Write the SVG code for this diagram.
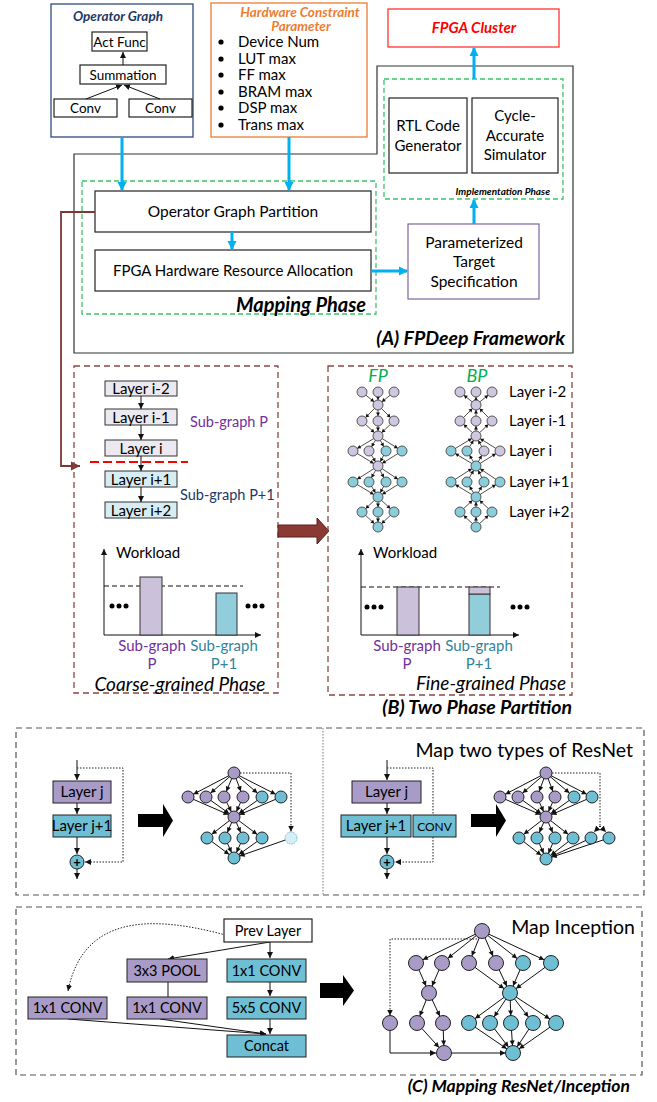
<svg xmlns="http://www.w3.org/2000/svg" xmlns:xlink="http://www.w3.org/1999/xlink" width="657" height="1102" viewBox="0 0 657 1102">
<defs>
<style>
text{font-family:Lato,"Open Sans","Liberation Sans",sans-serif}
.c{text-anchor:middle}
.e{text-anchor:end}
.bi{font-weight:bold;font-style:italic}
.it{font-style:italic}
.box{fill:#fff;stroke:#222;stroke-width:1.2}
.blue{stroke:#00B0F0;stroke-width:3;fill:none;marker-end:url(#mb)}
.k{stroke:#111;stroke-width:1;fill:none}
.ka{stroke:#111;stroke-width:1;fill:none;marker-end:url(#mk)}
.dot{stroke:#222;stroke-width:1;stroke-dasharray:1.5 1.5;fill:none}
.dota{stroke:#222;stroke-width:1;stroke-dasharray:1.5 1.5;fill:none;marker-end:url(#mk)}
.gdash{fill:none;stroke:#3CC36B;stroke-width:1.3;stroke-dasharray:5 3}
.bdash{fill:none;stroke:#8B4545;stroke-width:1.3;stroke-dasharray:6 4}
.cdash{fill:none;stroke:#555;stroke-width:1.2;stroke-dasharray:6 4}
.p1{fill:#CFC6DF;stroke:#333;stroke-width:0.8}
.t1{fill:#8CCDDC;stroke:#333;stroke-width:0.8}
.p2{fill:#A99BC7;stroke:#222;stroke-width:1}
.t2{fill:#6EBED4;stroke:#222;stroke-width:1}
.lp{fill:#ECE9F1;stroke:#333;stroke-width:1}
.lt{fill:#D8EDF3;stroke:#333;stroke-width:1}
.bp{fill:#CCC1DA;stroke:#333;stroke-width:1}
.bt{fill:#92CDDC;stroke:#333;stroke-width:1}
.ge{stroke:#222;stroke-width:0.8;fill:none}
.re{stroke:#111;stroke-width:1;fill:none;marker-end:url(#mr)}
.ie{stroke:#111;stroke-width:1;fill:none;marker-end:url(#mi)}
</style>
<marker id="mb" markerUnits="userSpaceOnUse" markerWidth="10" markerHeight="10" refX="8" refY="5" orient="auto"><path d="M0,0.5 L9,5 L0,9.5z" fill="#00B0F0"/></marker>
<marker id="mk" markerUnits="userSpaceOnUse" markerWidth="6" markerHeight="6" refX="6" refY="3" orient="auto"><path d="M0,0 L6,3 L0,6z" fill="#111"/></marker>
<marker id="mbr" markerUnits="userSpaceOnUse" markerWidth="10" markerHeight="10" refX="9" refY="5" orient="auto"><path d="M0,0.5 L9,5 L0,9.5z" fill="#7F3535"/></marker>
<marker id="mf" markerUnits="userSpaceOnUse" markerWidth="4" markerHeight="4" refX="8.5" refY="2" orient="auto-start-reverse" overflow="visible"><path d="M0,0 L3.5,2 L0,4z" fill="#111"/></marker>
<marker id="mr" markerUnits="userSpaceOnUse" markerWidth="5" markerHeight="5" refX="11" refY="2.5" orient="auto" overflow="visible"><path d="M0,0 L5,2.5 L0,5z" fill="#111"/></marker>
<marker id="mi" markerUnits="userSpaceOnUse" markerWidth="5" markerHeight="5" refX="12.5" refY="2.5" orient="auto" overflow="visible"><path d="M0,0 L5,2.5 L0,5z" fill="#111"/></marker>
<g id="gE" class="ge">
<line x1="362" y1="392" x2="378" y2="405"/><line x1="378" y1="392" x2="378" y2="405"/><line x1="394" y1="392" x2="378" y2="405"/>
<line x1="378" y1="405" x2="362" y2="421"/><line x1="378" y1="405" x2="378" y2="421"/><line x1="378" y1="405" x2="394" y2="421"/>
<line x1="362" y1="421" x2="378" y2="436"/><line x1="378" y1="421" x2="378" y2="436"/><line x1="394" y1="421" x2="378" y2="436"/>
<line x1="378" y1="436" x2="353" y2="451"/><line x1="378" y1="436" x2="369" y2="451"/><line x1="378" y1="436" x2="386" y2="451"/><line x1="378" y1="436" x2="402" y2="451"/>
<line x1="353" y1="451" x2="378" y2="466"/><line x1="369" y1="451" x2="378" y2="466"/><line x1="386" y1="451" x2="378" y2="466"/><line x1="402" y1="451" x2="378" y2="466"/>
<line x1="378" y1="466" x2="353" y2="482"/><line x1="378" y1="466" x2="369" y2="482"/><line x1="378" y1="466" x2="386" y2="482"/><line x1="378" y1="466" x2="402" y2="482"/>
<line x1="353" y1="482" x2="378" y2="497"/><line x1="369" y1="482" x2="378" y2="497"/><line x1="386" y1="482" x2="378" y2="497"/><line x1="402" y1="482" x2="378" y2="497"/>
<line x1="378" y1="497" x2="362" y2="512"/><line x1="378" y1="497" x2="378" y2="512"/><line x1="378" y1="497" x2="394" y2="512"/>
<line x1="362" y1="512" x2="378" y2="527"/><line x1="378" y1="512" x2="378" y2="527"/><line x1="394" y1="512" x2="378" y2="527"/>
</g>
</defs>
<rect width="657" height="1102" fill="#fff"/>

<!-- ============ (A) FPDeep Framework ============ -->
<g id="framework-outline">
<path d="M74,154 H377 V66 H573 V353 H74 Z" fill="none" stroke="#333" stroke-width="1.2"/>
<text x="565" y="345" class="e bi" font-size="19.5">(A) FPDeep Framework</text>
</g>

<g id="operator-graph">
<rect x="51" y="4" width="142" height="133" fill="#fff" stroke="#2F4A7F" stroke-width="1.3"/>
<text x="118" y="21" class="c bi" font-size="13.5" fill="#1F3864">Operator Graph</text>
<rect x="92" y="32" width="55" height="19" class="box"/>
<text x="119.5" y="46.5" class="c" font-size="13.5">Act Func</text>
<rect x="80" y="65" width="86" height="19" class="box"/>
<text x="123" y="79.5" class="c" font-size="13.5">Summation</text>
<rect x="54" y="99" width="63" height="18" class="box"/>
<text x="85.5" y="113" class="c" font-size="13.5">Conv</text>
<rect x="129" y="99" width="63" height="18" class="box"/>
<text x="160.5" y="113" class="c" font-size="13.5">Conv</text>
<line x1="123" y1="65" x2="123" y2="52" class="ka"/>
<line x1="86" y1="99" x2="122" y2="85" class="ka"/>
<line x1="160" y1="99" x2="124" y2="85" class="ka"/>
</g>

<g id="hw-constraint">
<rect x="211" y="3" width="156" height="134" fill="#fff" stroke="#ED7D31" stroke-width="1.3"/>
<text x="300" y="17" class="c bi" font-size="13.5" fill="#ED7D31">Hardware Constraint</text>
<text x="301" y="31" class="c bi" font-size="13.5" fill="#ED7D31">Parameter</text>
<g font-size="15">
<circle cx="221" cy="42" r="2.6"/><text x="238" y="47">Device Num</text>
<circle cx="221" cy="59" r="2.6"/><text x="238" y="64">LUT max</text>
<circle cx="221" cy="75" r="2.6"/><text x="238" y="80">FF max</text>
<circle cx="221" cy="92" r="2.6"/><text x="238" y="97">BRAM max</text>
<circle cx="221" cy="108" r="2.6"/><text x="238" y="113">DSP max</text>
<circle cx="221" cy="125" r="2.6"/><text x="238" y="130">Trans max</text>
</g>
</g>

<g id="fpga-cluster">
<rect x="388" y="9" width="171" height="38" fill="#fff" stroke="#FF3333" stroke-width="1.3"/>
<text x="474" y="33" class="c bi" font-size="15" fill="#FF0000">FPGA Cluster</text>
</g>

<g id="mapping-phase">
<rect x="82" y="181" width="294" height="133" class="gdash"/>
<text x="366" y="312" class="e bi" font-size="20">Mapping Phase</text>
</g>
<g id="partition">
<rect x="95" y="191" width="276" height="41" class="box"/>
<text x="233" y="217" class="c" font-size="15.5">Operator Graph Partition</text>
</g>
<g id="allocation">
<rect x="95" y="250" width="276" height="41" class="box"/>
<text x="233" y="276" class="c" font-size="15">FPGA Hardware Resource Allocation</text>
</g>

<g id="implementation-phase">
<rect x="384" y="79" width="179" height="120" class="gdash"/>
<text x="550" y="195" class="e bi" font-size="10">Implementation Phase</text>
</g>
<g id="rtl">
<rect x="389" y="98" width="78" height="75" class="box"/>
<text x="428" y="131" class="c" font-size="15">RTL Code</text>
<text x="428" y="151" class="c" font-size="15">Generator</text>
</g>
<g id="simulator">
<rect x="472" y="98" width="86" height="75" class="box"/>
<text x="515" y="121" class="c" font-size="15">Cycle-</text>
<text x="515" y="141" class="c" font-size="15">Accurate</text>
<text x="515" y="160" class="c" font-size="15">Simulator</text>
</g>
<g id="target-spec">
<rect x="408" y="224" width="131" height="75" fill="#fff" stroke="#8064A2" stroke-width="1.2"/>
<text x="474" y="248" class="c" font-size="15.5">Parameterized</text>
<text x="474" y="267" class="c" font-size="15.5">Target</text>
<text x="474" y="287" class="c" font-size="15.5">Specification</text>
</g>

<g id="connectors-a">
<line x1="122" y1="137" x2="122" y2="190" class="blue"/>
<line x1="289" y1="137" x2="289" y2="190" class="blue"/>
<line x1="232" y1="232" x2="232" y2="249" class="blue"/>
<line x1="371" y1="271" x2="407" y2="271" class="blue"/>
<line x1="474" y1="224" x2="474" y2="200" class="blue"/>
<line x1="474" y1="79" x2="474" y2="48" class="blue"/>
<path d="M95,212 H61 V466 H80" fill="none" stroke="#7F3535" stroke-width="1.8" marker-end="url(#mbr)"/>
</g>

<!-- ============ (B) Two Phase Partition ============ -->
<g id="coarse-phase">
<rect x="74" y="366" width="204" height="327" class="bdash"/>
<text x="180" y="691" class="c it" font-size="19">Coarse-grained Phase</text>
</g>
<g id="coarse-layers">
<rect x="105" y="381" width="72" height="15" class="lp"/><text x="141" y="393.5" class="c" font-size="15">Layer i-2</text>
<rect x="105" y="409" width="72" height="16" class="lp"/><text x="141" y="422.5" class="c" font-size="15">Layer i-1</text>
<rect x="105" y="440" width="72" height="16" class="lp"/><text x="141" y="453.5" class="c" font-size="15">Layer i</text>
<rect x="105" y="471" width="72" height="16" class="lt"/><text x="141" y="484.5" class="c" font-size="15">Layer i+1</text>
<rect x="105" y="502" width="72" height="16" class="lt"/><text x="141" y="515.5" class="c" font-size="15">Layer i+2</text>
<line x1="141" y1="396" x2="141" y2="409" class="ka"/>
<line x1="141" y1="425" x2="141" y2="440" class="ka"/>
<line x1="141" y1="456" x2="141" y2="471" class="ka"/>
<line x1="141" y1="487" x2="141" y2="502" class="ka"/>
<line x1="90" y1="462" x2="188" y2="462" stroke="#FF0000" stroke-width="2" stroke-dasharray="9 4"/>
<text x="190" y="427" font-size="14.5" fill="#7030A0">Sub-graph P</text>
<text x="180" y="500" font-size="14.5" fill="#203864">Sub-graph P+1</text>
</g>
<g id="coarse-chart">
<line x1="104" y1="635" x2="104" y2="549" class="ka"/>
<line x1="104" y1="635" x2="261" y2="635" class="ka"/>
<line x1="104" y1="586" x2="243" y2="586" stroke="#111" stroke-width="1" stroke-dasharray="5 3"/>
<rect x="140" y="577" width="22" height="58" class="bp"/>
<rect x="216" y="593" width="21" height="42" class="bt"/>
<text x="116" y="558" font-size="15">Workload</text>
<circle cx="112" cy="606" r="2.5"/><circle cx="119" cy="606" r="2.5"/><circle cx="126" cy="606" r="2.5"/>
<circle cx="248" cy="606" r="2.5"/><circle cx="255" cy="606" r="2.5"/><circle cx="262" cy="606" r="2.5"/>
<text x="152" y="651" class="c" font-size="15" fill="#7030A0">Sub-graph</text>
<text x="152" y="669" class="c" font-size="15" fill="#7030A0">P</text>
<text x="224" y="651" class="c" font-size="15" fill="#31849B">Sub-graph</text>
<text x="224" y="669" class="c" font-size="15" fill="#31849B">P+1</text>
</g>

<g id="phase-arrow">
<path d="M278,525 H317 V518 L329,531 L317,544 V537 H278 Z" fill="#8B3A33" stroke="#5C1E1E" stroke-width="1"/>
</g>

<g id="fine-phase">
<rect x="328" y="366" width="244" height="329" class="bdash"/>
<text x="566" y="690" class="e it" font-size="19">Fine-grained Phase</text>
<text x="572" y="714" class="e bi" font-size="19.5">(B) Two Phase Partition</text>
</g>
<g id="fp-bp-graphs">
<text x="378" y="382" class="c it" font-size="18" fill="#00B050">FP</text>
<text x="477" y="382" class="c it" font-size="18" fill="#00B050">BP</text>
<use xlink:href="#gE" style="marker-end:url(#mf)"/>
<use xlink:href="#gE" x="98" style="marker-start:url(#mf)"/>
<g id="fp-nodes">
<circle cx="362" cy="392" r="5" class="p1"/><circle cx="378" cy="392" r="5" class="p1"/><circle cx="394" cy="392" r="5" class="p1"/>
<circle cx="378" cy="405" r="5" class="p1"/>
<circle cx="362" cy="421" r="5" class="p1"/><circle cx="378" cy="421" r="5" class="p1"/><circle cx="394" cy="421" r="5" class="p1"/>
<circle cx="378" cy="436" r="5" class="p1"/>
<circle cx="353" cy="451" r="5" class="p1"/><circle cx="369" cy="451" r="5" class="p1"/><circle cx="386" cy="451" r="5" class="t1"/><circle cx="402" cy="451" r="5" class="t1"/>
<circle cx="378" cy="466" r="5" class="p1"/>
<circle cx="353" cy="482" r="5" class="t1"/><circle cx="369" cy="482" r="5" class="t1"/><circle cx="386" cy="482" r="5" class="t1"/><circle cx="402" cy="482" r="5" class="t1"/>
<circle cx="378" cy="497" r="5" class="t1"/>
<circle cx="362" cy="512" r="5" class="t1"/><circle cx="378" cy="512" r="5" class="t1"/><circle cx="394" cy="512" r="5" class="t1"/>
<circle cx="378" cy="527" r="5" class="t1"/>
</g>
<g id="bp-nodes">
<circle cx="460" cy="392" r="5" class="p1"/><circle cx="476" cy="392" r="5" class="p1"/><circle cx="492" cy="392" r="5" class="p1"/>
<circle cx="476" cy="405" r="5" class="p1"/>
<circle cx="460" cy="421" r="5" class="p1"/><circle cx="476" cy="421" r="5" class="p1"/><circle cx="492" cy="421" r="5" class="p1"/>
<circle cx="476" cy="436" r="5" class="p1"/>
<circle cx="451" cy="451" r="5" class="t1"/><circle cx="467" cy="451" r="5" class="t1"/><circle cx="484" cy="451" r="5" class="p1"/><circle cx="500" cy="451" r="5" class="p1"/>
<circle cx="476" cy="466" r="5" class="t1"/>
<circle cx="451" cy="482" r="5" class="t1"/><circle cx="467" cy="482" r="5" class="t1"/><circle cx="484" cy="482" r="5" class="t1"/><circle cx="500" cy="482" r="5" class="t1"/>
<circle cx="476" cy="497" r="5" class="t1"/>
<circle cx="460" cy="512" r="5" class="t1"/><circle cx="476" cy="512" r="5" class="t1"/><circle cx="492" cy="512" r="5" class="t1"/>
<circle cx="476" cy="527" r="5" class="t1"/>
</g>
<g font-size="15">
<text x="509" y="397">Layer i-2</text>
<text x="509" y="426">Layer i-1</text>
<text x="509" y="456">Layer i</text>
<text x="509" y="487">Layer i+1</text>
<text x="509" y="517">Layer i+2</text>
</g>
</g>
<g id="fine-chart">
<line x1="361" y1="635" x2="361" y2="549" class="ka"/>
<line x1="361" y1="635" x2="519" y2="635" class="ka"/>
<line x1="361" y1="587" x2="500" y2="587" stroke="#111" stroke-width="1" stroke-dasharray="5 3"/>
<rect x="397" y="587" width="22" height="48" class="bp"/>
<rect x="469" y="594" width="21" height="41" class="bt"/>
<rect x="469" y="587" width="21" height="7" class="bp"/>
<text x="373" y="558" font-size="15">Workload</text>
<circle cx="367" cy="607" r="2.5"/><circle cx="374" cy="607" r="2.5"/><circle cx="381" cy="607" r="2.5"/>
<circle cx="513" cy="607" r="2.5"/><circle cx="520" cy="607" r="2.5"/><circle cx="527" cy="607" r="2.5"/>
<text x="407" y="651" class="c" font-size="15" fill="#7030A0">Sub-graph</text>
<text x="407" y="669" class="c" font-size="15" fill="#7030A0">P</text>
<text x="479" y="651" class="c" font-size="15" fill="#31849B">Sub-graph</text>
<text x="479" y="669" class="c" font-size="15" fill="#31849B">P+1</text>
</g>

<!-- ============ (C) Mapping ResNet / Inception ============ -->
<g id="resnet-frame">
<rect x="16" y="728" width="628" height="167" class="cdash"/>
<line x1="323" y1="728" x2="323" y2="895" stroke="#777" stroke-width="1" stroke-dasharray="1.5 1.5"/>
<text x="633" y="757" class="e" font-size="19.5">Map two types of ResNet</text>
</g>

<g id="resnet-a">
<line x1="77" y1="760" x2="77" y2="780" class="ka"/>
<path d="M77,768 H123 V862 H85" class="dota"/>
<rect x="53" y="781" width="58" height="22" class="p2"/>
<text x="82" y="797" class="c" font-size="15">Layer j</text>
<rect x="53" y="815" width="58" height="22" class="t2"/>
<text x="82" y="831" class="c" font-size="15">Layer j+1</text>
<line x1="77" y1="803" x2="77" y2="814" class="ka"/>
<line x1="77" y1="837" x2="77" y2="854" class="ka"/>
<circle cx="77" cy="862" r="7" class="t2"/>
<text x="77" y="866.5" class="c" font-size="13" font-weight="bold">+</text>
<line x1="77" y1="869" x2="77" y2="879" class="ka"/>
<path d="M138,814 H163 V804 L173,820.5 L163,837 V827 H138 Z" fill="#000"/>
</g>
<g id="resnet-a-graph">
<line x1="234" y1="773" x2="188" y2="797" class="re"/><line x1="234" y1="773" x2="206" y2="797" class="re"/><line x1="234" y1="773" x2="224" y2="797" class="re"/><line x1="234" y1="773" x2="243" y2="797" class="re"/><line x1="234" y1="773" x2="262" y2="797" class="re"/><line x1="234" y1="773" x2="281" y2="797" class="re"/>
<line x1="188" y1="797" x2="234" y2="817" class="re"/><line x1="206" y1="797" x2="234" y2="817" class="re"/><line x1="224" y1="797" x2="234" y2="817" class="re"/><line x1="243" y1="797" x2="234" y2="817" class="re"/><line x1="262" y1="797" x2="234" y2="817" class="re"/><line x1="281" y1="797" x2="234" y2="817" class="re"/>
<line x1="234" y1="817" x2="207" y2="838" class="re"/><line x1="234" y1="817" x2="225" y2="838" class="re"/><line x1="234" y1="817" x2="243" y2="838" class="re"/><line x1="234" y1="817" x2="262" y2="838" class="re"/>
<line x1="207" y1="838" x2="234" y2="858" class="re"/><line x1="225" y1="838" x2="234" y2="858" class="re"/><line x1="243" y1="838" x2="234" y2="858" class="re"/><line x1="262" y1="838" x2="234" y2="858" class="re"/><line x1="291" y1="838" x2="234" y2="858" class="re"/>
<path d="M240,773 H291 V831.5" class="dota"/>
<circle cx="234" cy="773" r="6" class="p2"/>
<circle cx="188" cy="797" r="6" class="p2"/><circle cx="206" cy="797" r="6" class="p2"/><circle cx="224" cy="797" r="6" class="p2"/><circle cx="243" cy="797" r="6" class="p2"/><circle cx="262" cy="797" r="6" class="t2"/><circle cx="281" cy="797" r="6" class="t2"/>
<circle cx="234" cy="817" r="6" class="p2"/>
<circle cx="207" cy="838" r="6" class="t2"/><circle cx="225" cy="838" r="6" class="t2"/><circle cx="243" cy="838" r="6" class="t2"/><circle cx="262" cy="838" r="6" class="t2"/>
<circle cx="291" cy="838" r="6" fill="#D6EEF5" stroke="#6EBED4" stroke-width="1" stroke-dasharray="1.5 1"/>
<circle cx="234" cy="858" r="6" class="t2"/>
</g>

<g id="resnet-b">
<line x1="387" y1="760" x2="387" y2="780" class="ka"/>
<path d="M387,768 H433 V815" class="dot"/>
<path d="M433,837 V862 H395" class="dota"/>
<rect x="352" y="781" width="69" height="22" class="p2"/>
<text x="386.5" y="797" class="c" font-size="15">Layer j</text>
<rect x="341" y="815" width="70" height="22" class="t2"/>
<text x="376" y="831" class="c" font-size="15">Layer j+1</text>
<rect x="413" y="815" width="43" height="22" class="t2"/>
<text x="434.5" y="830.5" class="c" font-size="12">CONV</text>
<line x1="387" y1="803" x2="387" y2="814" class="ka"/>
<line x1="387" y1="837" x2="387" y2="854" class="ka"/>
<circle cx="387" cy="862" r="7" class="t2"/>
<text x="387" y="866.5" class="c" font-size="13" font-weight="bold">+</text>
<line x1="387" y1="869" x2="387" y2="879" class="ka"/>
<path d="M471,814 H496 V804 L506,820.5 L496,837 V827 H471 Z" fill="#000"/>
</g>
<g id="resnet-b-graph">
<line x1="546" y1="773" x2="500" y2="797" class="re"/><line x1="546" y1="773" x2="518" y2="797" class="re"/><line x1="546" y1="773" x2="537" y2="797" class="re"/><line x1="546" y1="773" x2="555" y2="797" class="re"/><line x1="546" y1="773" x2="574" y2="797" class="re"/><line x1="546" y1="773" x2="592" y2="797" class="re"/>
<line x1="500" y1="797" x2="546" y2="817" class="re"/><line x1="518" y1="797" x2="546" y2="817" class="re"/><line x1="537" y1="797" x2="546" y2="817" class="re"/><line x1="555" y1="797" x2="546" y2="817" class="re"/><line x1="574" y1="797" x2="546" y2="817" class="re"/><line x1="592" y1="797" x2="546" y2="817" class="re"/>
<line x1="546" y1="817" x2="519" y2="838" class="re"/><line x1="546" y1="817" x2="537" y2="838" class="re"/><line x1="546" y1="817" x2="555" y2="838" class="re"/><line x1="546" y1="817" x2="573" y2="838" class="re"/>
<line x1="519" y1="838" x2="546" y2="859" class="re"/><line x1="537" y1="838" x2="546" y2="859" class="re"/><line x1="555" y1="838" x2="546" y2="859" class="re"/><line x1="573" y1="838" x2="546" y2="859" class="re"/><line x1="591" y1="838" x2="546" y2="859" class="re"/><line x1="609" y1="838" x2="546" y2="859" class="re"/>
<path d="M552,773 H600 V826" class="dot"/>
<line x1="600" y1="826" x2="594" y2="832" class="dota"/>
<line x1="600" y1="826" x2="606" y2="832" class="dota"/>
<circle cx="546" cy="773" r="6" class="p2"/>
<circle cx="500" cy="797" r="6" class="p2"/><circle cx="518" cy="797" r="6" class="p2"/><circle cx="537" cy="797" r="6" class="p2"/><circle cx="555" cy="797" r="6" class="p2"/><circle cx="574" cy="797" r="6" class="t2"/><circle cx="592" cy="797" r="6" class="t2"/>
<circle cx="546" cy="817" r="6" class="p2"/>
<circle cx="519" cy="838" r="6" class="t2"/><circle cx="537" cy="838" r="6" class="t2"/><circle cx="555" cy="838" r="6" class="t2"/><circle cx="573" cy="838" r="6" class="t2"/><circle cx="591" cy="838" r="6" class="t2"/><circle cx="609" cy="838" r="6" class="t2"/>
<circle cx="546" cy="859" r="6" class="t2"/>
</g>

<g id="inception-frame">
<rect x="16" y="907" width="626" height="168" class="cdash"/>
<text x="635" y="934" class="e" font-size="19.5">Map Inception</text>
<text x="630" y="1092" class="e bi" font-size="17.5">(C) Mapping ResNet/Inception</text>
</g>
<g id="inception-block">
<path d="M243,940 C170,918 85,905 68,991" class="dota"/>
<line x1="270" y1="942" x2="168" y2="959" class="ka"/>
<line x1="270" y1="942" x2="270" y2="958" class="ka"/>
<line x1="168" y1="982" x2="168" y2="997" class="k"/>
<line x1="270" y1="982" x2="270" y2="996" class="ka"/>
<line x1="270" y1="1019" x2="270" y2="1034" class="ka"/>
<line x1="68" y1="1019" x2="266" y2="1034" class="ka"/>
<line x1="160" y1="1019" x2="266" y2="1034" class="ka"/>
<rect x="224" y="919" width="88" height="23" class="box"/>
<text x="268" y="935.5" class="c" font-size="14.5">Prev Layer</text>
<rect x="127" y="959" width="80" height="23" class="p2"/>
<text x="167" y="975.5" class="c" font-size="14.5">3x3 POOL</text>
<rect x="227" y="959" width="79" height="23" class="t2"/>
<text x="266.5" y="975.5" class="c" font-size="14.5">1x1 CONV</text>
<rect x="28" y="997" width="79" height="22" class="p2"/>
<text x="67.5" y="1013" class="c" font-size="14.5">1x1 CONV</text>
<rect x="127" y="997" width="80" height="22" class="p2"/>
<text x="167" y="1013" class="c" font-size="14.5">1x1 CONV</text>
<rect x="227" y="997" width="79" height="22" class="t2"/>
<text x="266.5" y="1013" class="c" font-size="14.5">5x5 CONV</text>
<rect x="227" y="1035" width="79" height="22" class="t2"/>
<text x="266.5" y="1051" class="c" font-size="14.5">Concat</text>
<path d="M320,983 H343 V975 L354,990.5 L343,1006 V998 H320 Z" fill="#000"/>
</g>
<g id="inception-graph">
<line x1="482" y1="931" x2="416" y2="963" class="ie"/><line x1="482" y1="931" x2="442" y2="963" class="ie"/><line x1="482" y1="931" x2="469" y2="963" class="ie"/><line x1="482" y1="931" x2="496" y2="963" class="ie"/><line x1="482" y1="931" x2="523" y2="963" class="ie"/><line x1="482" y1="931" x2="551" y2="963" class="ie"/>
<line x1="416" y1="963" x2="429" y2="993" class="ie"/><line x1="442" y1="963" x2="429" y2="993" class="ie"/>
<line x1="469" y1="963" x2="510" y2="993" class="ie"/><line x1="496" y1="963" x2="510" y2="993" class="ie"/><line x1="523" y1="963" x2="510" y2="993" class="ie"/><line x1="551" y1="963" x2="510" y2="993" class="ie"/>
<line x1="429" y1="993" x2="417" y2="1023" class="ie"/><line x1="429" y1="993" x2="443" y2="1023" class="ie"/>
<line x1="510" y1="993" x2="469" y2="1023" class="ie"/><line x1="510" y1="993" x2="490" y2="1023" class="ie"/><line x1="510" y1="993" x2="511" y2="1023" class="ie"/><line x1="510" y1="993" x2="533" y2="1023" class="ie"/><line x1="510" y1="993" x2="556" y2="1023" class="ie"/>
<line x1="417" y1="1023" x2="444" y2="1053" class="ie"/><line x1="443" y1="1023" x2="444" y2="1053" class="ie"/>
<line x1="469" y1="1023" x2="513" y2="1053" class="ie"/><line x1="490" y1="1023" x2="513" y2="1053" class="ie"/><line x1="511" y1="1023" x2="513" y2="1053" class="ie"/><line x1="533" y1="1023" x2="513" y2="1053" class="ie"/><line x1="556" y1="1023" x2="513" y2="1053" class="ie"/>
<path d="M390,1030 V1053 H436" class="ka"/>
<line x1="451.5" y1="1053" x2="505.5" y2="1053" class="ka"/>
<path d="M477,939 H390 V1015.5" class="dota"/>
<circle cx="482" cy="931" r="7.5" class="p2"/>
<circle cx="416" cy="963" r="7.5" class="p2"/><circle cx="442" cy="963" r="7.5" class="p2"/><circle cx="469" cy="963" r="7.5" class="p2"/><circle cx="496" cy="963" r="7.5" class="p2"/><circle cx="523" cy="963" r="7.5" class="t2"/><circle cx="551" cy="963" r="7.5" class="t2"/>
<circle cx="429" cy="993" r="7.5" class="p2"/><circle cx="510" cy="993" r="7.5" class="t2"/>
<circle cx="390" cy="1023" r="7.5" class="p2"/><circle cx="417" cy="1023" r="7.5" class="p2"/><circle cx="443" cy="1023" r="7.5" class="p2"/>
<circle cx="469" cy="1023" r="7.5" class="t2"/><circle cx="490" cy="1023" r="7.5" class="t2"/><circle cx="511" cy="1023" r="7.5" class="t2"/><circle cx="533" cy="1023" r="7.5" class="t2"/><circle cx="556" cy="1023" r="7.5" class="t2"/>
<circle cx="444" cy="1053" r="7.5" class="p2"/><circle cx="513" cy="1053" r="7.5" class="t2"/>
</g>
</svg>
